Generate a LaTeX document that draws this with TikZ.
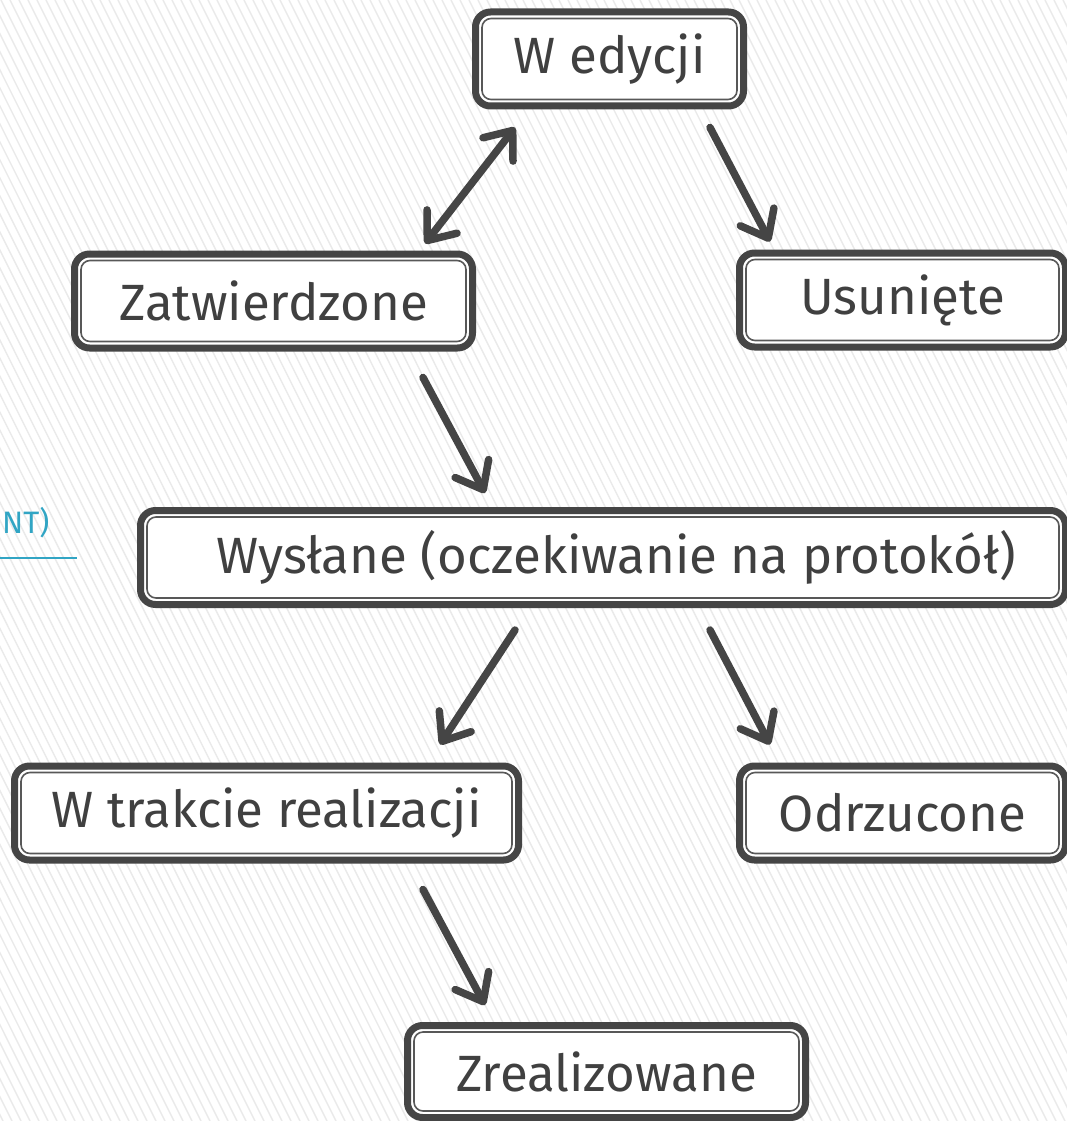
\documentclass[tikz,border=0pt]{standalone}
\usepackage{fontspec}
\setmainfont{Fira Sans}
\usetikzlibrary{arrows.meta}
\definecolor{dg}{HTML}{454545}
\definecolor{txt}{HTML}{404040}
\definecolor{teal}{HTML}{31A5C4}
\definecolor{hatch}{HTML}{EAEAEA}
\tikzset{
  stbox/.style={rectangle, draw=dg, line width=7pt, rounded corners=15pt, fill=white,
    inner sep=0pt, minimum height=94pt, text=txt, font=\fontsize{51}{55}\selectfont},
  innerline/.style={draw=dg!90, line width=1.6pt, rounded corners=9pt},
  arr/.style={draw=dg, line width=7.5pt, line cap=round,
    -{Straight Barb[length=24pt,width=38pt,round]}},
  darr/.style={draw=dg, line width=7.5pt, line cap=round,
    {Straight Barb[length=24pt,width=38pt,round]}-{Straight Barb[length=24pt,width=38pt,round]}},
}
\begin{document}
\begin{tikzpicture}[x=1pt,y=-1pt]
\useasboundingbox (0,0) rectangle (1067,1121);
\fill[white] (0,0) rectangle (1067,1121);
\begin{scope}
\clip (0,0) rectangle (1067,1121);
\foreach \x in {-620,-611,...,1070} {
  \draw[hatch, line width=1.4pt] (\x,0) -- ++(560,1121);
}
\end{scope}

% teal fragment at left
\node[anchor=base west, text=teal, font=\fontsize{31}{34}\selectfont, inner sep=0pt] (tl) at (2,533) {NT)};
\coordinate (tla) at (0,558);
\coordinate (tlb) at (77,558);
\draw[teal, line width=2pt] (tla) -- (tlb);

\node[stbox, minimum width=268pt] (wed) at (609.5,59) {W edycji};
\node[stbox, minimum width=398pt] (zat) at (273.5,301) {Zatwierdzone};
\node[stbox, minimum width=326pt] (usu) at (902.5,300) {Usunięte};
\node[stbox, minimum width=925pt, minimum height=94pt] (wys) at (603,557.5) {\hspace*{26pt}Wysłane (oczekiwanie na protokół)};
\node[stbox, minimum width=504pt] (wtr) at (266.5,813) {W trakcie realizacji};
\node[stbox, minimum width=326pt] (odr) at (902.5,813) {Odrzucone};
\node[stbox, minimum width=398pt, minimum height=92pt] (zre) at (606.5,1071.5) {Zrealizowane};

\foreach \n in {wed,zat,usu,wys,wtr,odr,zre} {
  \draw[innerline] ([xshift=10pt,yshift=10pt]\n.south west) rectangle ([xshift=-10pt,yshift=-10pt]\n.north east);
}

\draw[darr] ([shift={(151.5,-7)}]zat.north) -- ([shift={(-94.5,18)}]wed.south);
\draw[arr] ([shift={(100.5,18)}]wed.south) -- ([shift={(-132.5,-8)}]usu.north);
\draw[arr] ([shift={(149.5,26)}]zat.south) -- ([shift={(-118,-14)}]wys.north);
\draw[arr] ([shift={(-88,22)}]wys.south) -- ([shift={(173.5,-18)}]wtr.north);
\draw[arr] ([shift={(107,22)}]wys.south) -- ([shift={(-132.5,-18)}]odr.north);
\draw[arr] ([shift={(156.5,26)}]wtr.south) -- ([shift={(-121.5,-17)}]zre.north);
\end{tikzpicture}
\end{document}
